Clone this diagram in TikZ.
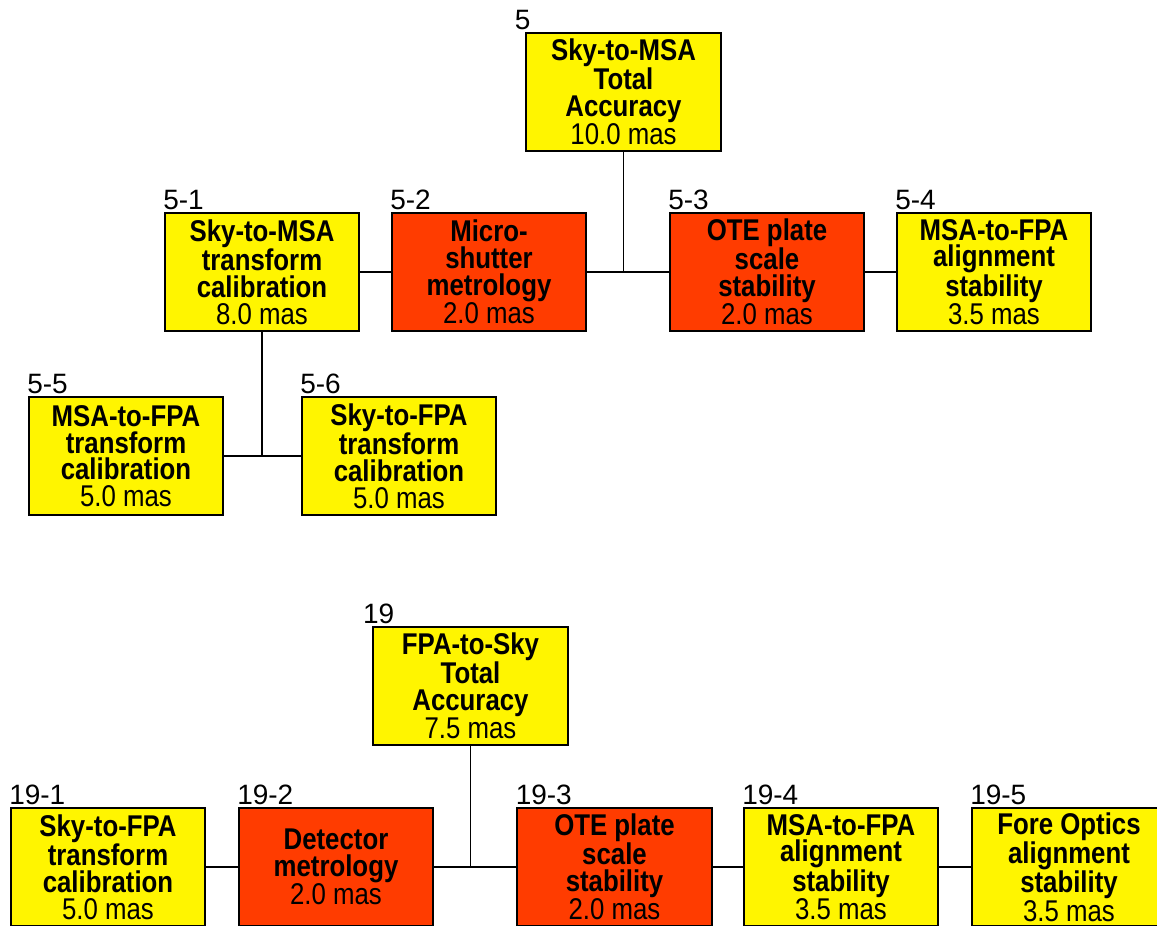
\documentclass[tikz,border=0pt]{standalone}
\usepackage{fontspec}
\setmainfont{Liberation Sans}
\newfontfamily\boxfont{Liberation Sans}[FakeStretch=0.86]
\usepackage{tikz}
\usepackage{xcolor}

\definecolor{reqyellow}{RGB}{255,245,0}
\definecolor{reqred}{RGB}{255,60,0}

\begin{document}
\begin{tikzpicture}[x=0.75pt,y=-0.75pt,
    req/.style={draw=black, line width=1.5pt, fill=reqyellow, align=center,
      minimum width=146pt, minimum height=89pt, inner sep=0pt,
      font=\boxfont\bfseries\fontsize{22.5}{20}\selectfont},
    hot/.style={req, fill=reqred},
    num/.style={anchor=base west, inner sep=0pt, yshift=1.5pt, xshift=-0.5pt,
      font=\fontsize{21}{20}\selectfont},
    link/.style={line width=1.1pt}]
      \clip (0,0) rectangle (1157,925);
      % Sky-to-MSA tree
      \node[req] (s5) at (623.5,92) {Sky-to-MSA\\Total\\Accuracy\\\textmd{10.0 mas}};
      \node[req] (s51) at (262,272) {Sky-to-MSA\\transform\\calibration\\\textmd{8.0 mas}};
      \node[hot] (s52) at (489,272) {Micro-\\shutter\\metrology\\\textmd{2.0 mas}};
      \node[hot] (s53) at (767,272) {OTE plate\\scale\\stability\\\textmd{2.0 mas}};
      \node[req] (s54) at (994,272) {MSA-to-FPA\\alignment\\stability\\\textmd{3.5 mas}};
      \node[req] (s55) at (126,456) {MSA-to-FPA\\transform\\calibration\\\textmd{5.0 mas}};
      \node[req] (s56) at (399,456) {Sky-to-FPA\\transform\\calibration\\\textmd{5.0 mas}};
      % Numbers
      \node[num, xshift=-7.5pt] (n5) at (s5.north west) {5};
      \node[num] (n51) at (s51.north west) {5-1};
      \node[num] (n52) at (s52.north west) {5-2};
      \node[num] (n53) at (s53.north west) {5-3};
      \node[num] (n54) at (s54.north west) {5-4};
      \node[num] (n55) at (s55.north west) {5-5};
      \node[num] (n56) at (s56.north west) {5-6};
      % Links
      \draw[link] (s51) -- (s52);
      \draw[link] (s52) -- (s53);
      \draw[link] (s53) -- (s54);
      \draw[link] (s5.south) -- (s5.south |- s52.east);
      \draw[link] (s55) -- (s56);
      \draw[link] (s51.south) -- (s51.south |- s55.east);
      % FPA-to-Sky tree
      \node[req] (s19) at (470.5,686) {FPA-to-Sky\\Total\\Accuracy\\\textmd{7.5 mas}};
      \node[req] (s191) at (108,867) {Sky-to-FPA\\transform\\calibration\\\textmd{5.0 mas}};
      \node[hot] (s192) at (336,867) {Detector\\metrology\\\textmd{2.0 mas}};
      \node[hot] (s193) at (614.5,867) {OTE plate\\scale\\stability\\\textmd{2.0 mas}};
      \node[req] (s194) at (841,867) {MSA-to-FPA\\alignment\\stability\\\textmd{3.5 mas}};
      \node[req] (s195) at (1069,867) {Fore Optics\\alignment\\stability\\\textmd{3.5 mas}};
      % Numbers
      \node[num, xshift=-6.5pt] (n19) at (s19.north west) {19};
      \node[num] (n191) at (s191.north west) {19-1};
      \node[num] (n192) at (s192.north west) {19-2};
      \node[num] (n193) at (s193.north west) {19-3};
      \node[num] (n194) at (s194.north west) {19-4};
      \node[num] (n195) at (s195.north west) {19-5};
      % Links
      \draw[link] (s191) -- (s192);
      \draw[link] (s192) -- (s193);
      \draw[link] (s193) -- (s194);
      \draw[link] (s194) -- (s195);
      \draw[link] (s19.south) -- (s19.south |- s192.east);
    \end{tikzpicture}
\end{document}
